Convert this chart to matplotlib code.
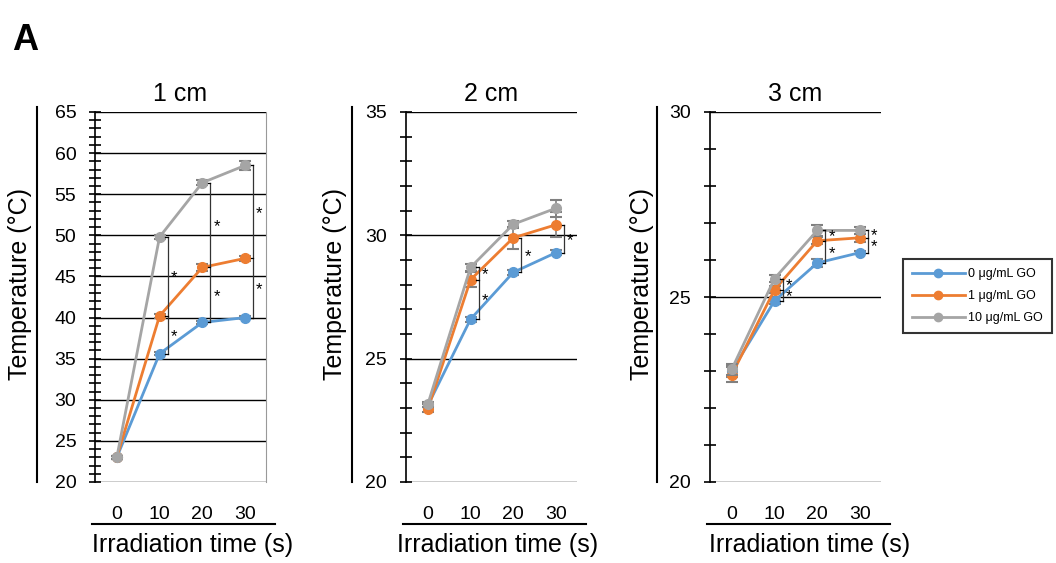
import matplotlib.pyplot as plt
from matplotlib.ticker import MultipleLocator
from matplotlib.lines import Line2D

plt.rcParams['font.family'] = ['Liberation Sans', 'DejaVu Sans']

# irradiation time (s)
times = [0, 10, 20, 30]
labels = ['0 μg/mL GO', '1 μg/mL GO', '10 μg/mL GO']
colors = ['#5B9BD5', '#ED7D31', '#A5A5A5']
titles = ['1 cm', '2 cm', '3 cm']

# mean temperatures (°C) per distance, per GO concentration
temp_1cm = [[23.0, 35.6, 39.4, 40.0],
            [23.0, 40.2, 46.1, 47.2],
            [23.0, 49.8, 56.4, 58.5]]
err_1cm = [[0.2, 0.2, 0.2, 0.2],
           [0.2, 0.2, 0.4, 0.3],
           [0.2, 0.3, 0.3, 0.5]]
temp_2cm = [[23.1, 26.6, 28.5, 29.3],
            [22.95, 28.2, 29.9, 30.43],
            [23.15, 28.7, 30.45, 31.1]]
err_2cm = [[0.05, 0.1, 0.1, 0.1],
           [0.1, 0.3, 0.45, 0.5],
           [0.1, 0.15, 0.15, 0.35]]
temp_3cm = [[23.0, 24.9, 25.92, 26.2],
            [22.9, 25.2, 26.52, 26.6],
            [23.05, 25.5, 26.8, 26.8]]
err_3cm = [[0.15, 0.1, 0.12, 0.05],
           [0.2, 0.1, 0.1, 0.1],
           [0.15, 0.1, 0.15, 0.1]]

# significance brackets: (time, series indices joined by the bracket)
sig_1cm = [(10, [0, 1, 2]), (20, [0, 1, 2]), (30, [0, 1, 2])]
sig_2cm = [(10, [0, 1, 2]), (20, [0, 1]), (30, [0, 1])]
sig_3cm = [(10, [0, 1, 2]), (20, [0, 1, 2]), (30, [0, 1, 2])]

panels = [
    (temp_1cm, err_1cm, sig_1cm, (20, 65)),
    (temp_2cm, err_2cm, sig_2cm, (20, 35)),
    (temp_3cm, err_3cm, sig_3cm, (20, 30)),
]

fig = plt.figure(figsize=(10.56, 5.63), dpi=100)

W, H = 1056, 563
lefts = [95, 406, 710]
ylab_x = [20, 335, 642]
ylin_x = [37, 352, 657]
xlab_dx = [98, 92, 100]

for i, (temp, err, sig, ylim) in enumerate(panels):
    ax = fig.add_axes([lefts[i] / W, 1 - 482 / H, 171 / W, 370 / H])
    for k in range(3):
        ax.errorbar(times, temp[k], yerr=err[k], color=colors[k], ecolor='#808080',
                    elinewidth=1.2, capsize=4, capthick=1.5, marker='o',
                    markersize=7, linewidth=2, zorder=3 + k)
    ax.set_xlim(-5.1, 34.9)
    ax.set_ylim(*ylim)
    ax.yaxis.set_major_locator(MultipleLocator(5))
    ax.yaxis.set_minor_locator(MultipleLocator(1))
    ax.grid(axis='y', which='major', color='black', linewidth=1)
    ax.set_axisbelow(True)
    for s in ['top', 'bottom', 'right']:
        ax.spines[s].set_visible(False)
    if i == 0:
        ax.spines['right'].set_visible(True)
        ax.spines['right'].set_color('#999999')
    ax.spines['left'].set_linewidth(1.2)
    ax.tick_params(axis='y', which='both', direction='inout', length=9, width=1.2,
                   labelsize=14, pad=9)
    ax.set_xticks(times)
    ax.tick_params(axis='x', length=0, labelsize=14, pad=17)
    ax.set_title(titles[i], fontsize=18, pad=8)

    # significance brackets
    for t, idx in sig:
        ys = [temp[k][t // 10] for k in idx]
        bx = t + 1.9
        ax.plot([bx, bx], [min(ys), max(ys)], color='#333333', lw=0.9, zorder=6)
        for y in ys:
            ax.plot([bx - 0.6, bx], [y, y], color='black', lw=0.9, zorder=6)
        for a, b in zip(ys[:-1], ys[1:]):
            ax.text(bx + 0.7, (a + b) / 2, '*', fontsize=12, ha='left',
                    va='center_baseline', zorder=6)

    # decorative lines and axis labels
    x0 = lefts[i]
    ax.plot([-3 / 171, 180 / 171], [-42 / 370, -42 / 370],
            transform=ax.transAxes, clip_on=False, color='black', lw=1.5)
    ax.text(xlab_dx[i] / 171, -63 / 370, 'Irradiation time (s)',
            transform=ax.transAxes, ha='center', va='center', fontsize=18)
    ax.plot([(ylin_x[i] - x0) / 171] * 2, [0, 375 / 370], transform=ax.transAxes,
            clip_on=False, color='black', lw=1.5)
    ax.text((ylab_x[i] - x0) / 171, 0.535, 'Temperature (°C)', rotation=90,
            transform=ax.transAxes, ha='center', va='center', fontsize=18)

handles = [Line2D([], [], color=c, marker='o', markersize=6, linewidth=2)
           for c in colors]
leg = fig.legend(handles, labels, loc='upper left',
                 bbox_to_anchor=(897 / W, 1 - 253 / H), fontsize=9, frameon=True,
                 fancybox=False, edgecolor='black', handlelength=4.2,
                 borderpad=0.7, labelspacing=0.8, handletextpad=0.3)
leg.get_frame().set_linewidth(1.5)

fig.text(12 / W, 1 - 40 / H, 'A', fontsize=26, fontweight='bold', va='center')

fig.savefig('out.png', dpi=100)
